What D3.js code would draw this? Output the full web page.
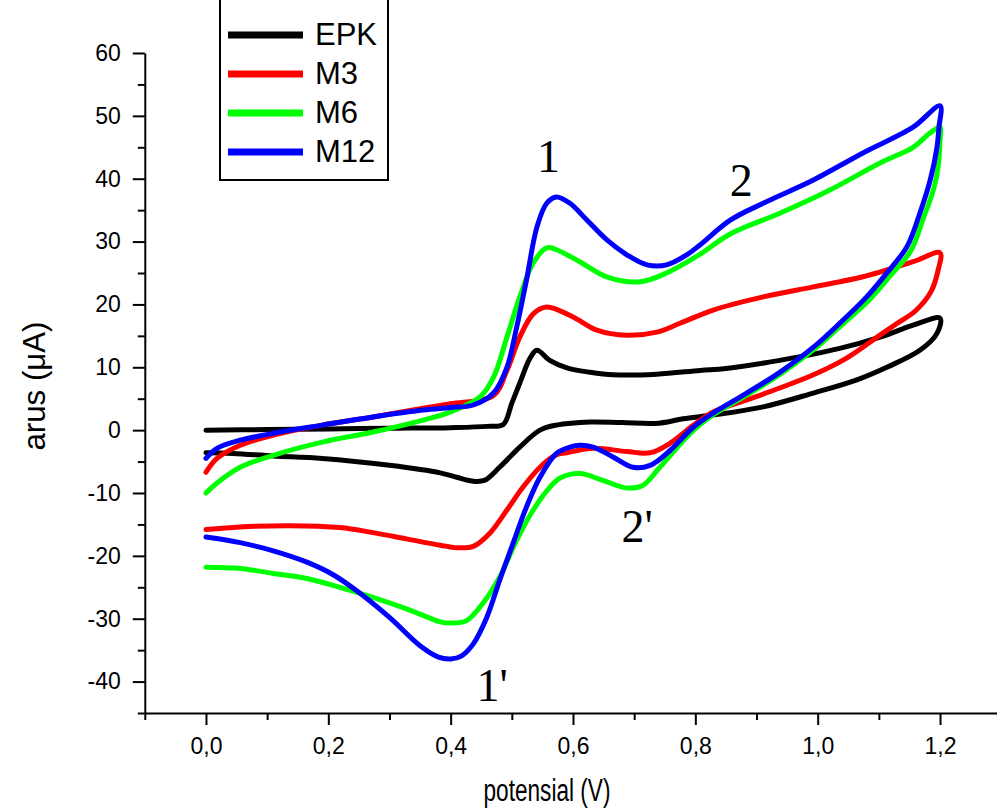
<!DOCTYPE html>
<html>
<head>
<meta charset="utf-8">
<style>
body { margin: 0; background: #fff; }
svg { display: block; }
.axis path, .axis line { stroke: #000; stroke-width: 2px; fill: none; }
.axis text { font-family: "Liberation Sans", Arial, sans-serif; font-size: 23px; fill: #000; }
.title { font-family: "Liberation Sans", Arial, sans-serif; font-size: 31px; fill: #000; }
.curve { fill: none; stroke-width: 5px; stroke-linejoin: round; stroke-linecap: round; }
.legend text { font-family: "Liberation Sans", Arial, sans-serif; font-size: 31px; fill: #000; }
.peak { font-family: "Liberation Serif", "Times New Roman", serif; font-size: 46px; fill: #000; }
</style>
</head>
<body>
<svg id="chart" width="997" height="809"></svg>
<script src="https://cdn.jsdelivr.net/npm/d3@7"></script>
<script>

// values: [potensial (V), arus (uA)], forward scan then return
var epk = [
  [0, 0.0], [0.1, 0.1], [0.2, 0.2], [0.3, 0.3], [0.4, 0.4], [0.46, 0.6], [0.486, 0.9],
  [0.50, 4.3], [0.513, 7.5], [0.53, 11.5], [0.541, 12.7], [0.562, 11.1], [0.59, 9.9],
  [0.628, 9.2], [0.666, 8.8], [0.737, 8.9], [0.808, 9.5], [0.85, 9.8], [0.938, 11.1],
  [1.036, 13.0], [1.102, 14.8], [1.156, 16.7], [1.2, 17.8],
  [1.195, 15.4], [1.167, 12.7], [1.113, 10.0], [1.064, 8.0], [0.993, 5.9], [0.911, 3.7],
  [0.829, 2.4], [0.78, 1.8], [0.74, 1.1], [0.68, 1.2], [0.628, 1.3], [0.573, 0.8],
  [0.546, 0.0], [0.513, -2.7], [0.48, -5.9], [0.455, -8.0], [0.435, -8.1], [0.41, -7.5],
  [0.383, -6.8], [0.3, -5.6], [0.19, -4.5], [0.11, -4.1], [0.044, -3.7], [0, -3.6]
];

var m3 = [
  [0, -6.7], [0.018, -4.5], [0.056, -2.4], [0.11, -0.8], [0.19, 0.8], [0.273, 2.1],
  [0.355, 3.5], [0.4, 4.2], [0.47, 5.5], [0.492, 9.5], [0.513, 14.8], [0.535, 18.5],
  [0.557, 19.6], [0.60, 18.0], [0.639, 15.9], [0.688, 15.1], [0.737, 15.6], [0.775, 17.0],
  [0.829, 19.1], [0.911, 21.2], [0.993, 22.8], [1.074, 24.4], [1.156, 26.8], [1.2, 28.2],
  [1.197, 25.5], [1.185, 22.0], [1.16, 19.0], [1.13, 17.0], [1.10, 15.0], [1.048, 11.5],
  [0.993, 8.8], [0.938, 6.7], [0.884, 4.8], [0.829, 2.9], [0.797, 0.8], [0.76, -2.0],
  [0.726, -3.6], [0.688, -3.4], [0.633, -2.9], [0.59, -3.6], [0.573, -3.9], [0.546, -5.9],
  [0.518, -9.1], [0.492, -12.7], [0.464, -16.4], [0.437, -18.5], [0.41, -18.7],
  [0.383, -18.3], [0.328, -17.3], [0.273, -16.3], [0.219, -15.5], [0.137, -15.2],
  [0.056, -15.4], [0, -15.8]
];

var m6 = [
  [0, -10.0], [0.018, -8.4], [0.056, -5.9], [0.11, -4.0], [0.19, -1.9], [0.273, -0.3],
  [0.355, 1.6], [0.4, 2.9], [0.448, 5.3], [0.47, 8.4], [0.492, 14.8], [0.513, 21.2],
  [0.535, 26.6], [0.557, 29.0], [0.573, 28.7], [0.611, 26.8], [0.655, 24.4], [0.71, 23.6],
  [0.753, 25.0], [0.808, 28.0], [0.857, 31.2], [0.938, 34.5], [1.02, 38.2], [1.102, 42.5],
  [1.156, 45.0], [1.184, 47.3], [1.2, 48.2],
  [1.2, 46.2], [1.197, 42.0], [1.19, 38.5], [1.172, 33.5], [1.152, 28.5], [1.118, 24.5],
  [1.085, 20.8], [1.04, 16.8], [0.996, 13.0], [0.94, 9.0], [0.886, 5.7], [0.83, 2.5],
  [0.797, 0.0], [0.742, -5.9], [0.714, -8.8], [0.688, -9.2], [0.649, -8.0], [0.611, -6.9],
  [0.579, -7.6], [0.562, -9.1], [0.535, -12.7], [0.508, -17.5], [0.48, -23.4],
  [0.453, -27.5], [0.426, -30.3], [0.4, -30.7], [0.383, -30.5], [0.33, -28.5],
  [0.273, -26.6], [0.219, -25.0], [0.165, -23.6], [0.11, -22.8], [0.056, -22.0], [0, -21.8]
];

var m12 = [
  [0, -4.5], [0.018, -2.9], [0.056, -1.6], [0.11, -0.5], [0.19, 0.8], [0.273, 2.1],
  [0.355, 3.2], [0.4, 3.6], [0.437, 4.0], [0.47, 5.9], [0.492, 10.0], [0.508, 16.4],
  [0.524, 23.9], [0.541, 32.3], [0.557, 36.1], [0.573, 37.1], [0.595, 36.1], [0.623, 33.4],
  [0.655, 30.3], [0.688, 27.9], [0.721, 26.3], [0.753, 26.3], [0.786, 27.9], [0.808, 29.5],
  [0.857, 33.4], [0.911, 36.1], [0.993, 39.8], [1.074, 44.1], [1.156, 48.2], [1.2, 51.6],
  [1.198, 48.0], [1.195, 45.0], [1.184, 39.8], [1.167, 34.5], [1.146, 29.2], [1.113, 25.0],
  [1.08, 21.2], [1.036, 17.0], [0.993, 13.2], [0.938, 9.2], [0.884, 5.9], [0.829, 2.7],
  [0.797, 0.5], [0.759, -3.2], [0.726, -5.6], [0.698, -5.9], [0.666, -4.3], [0.633, -2.7],
  [0.611, -2.4], [0.595, -2.7], [0.573, -3.7], [0.546, -7.5], [0.524, -12.2], [0.502, -18.0],
  [0.48, -23.9], [0.459, -29.8], [0.437, -34.0], [0.418, -35.9], [0.4, -36.4], [0.38, -36.1],
  [0.35, -34.3], [0.3, -29.8], [0.247, -25.6], [0.208, -23.0], [0.165, -21.0], [0.11, -19.2],
  [0.056, -17.9], [0, -17.0]
];

var seriesNames = ["EPK", "M3", "M6", "M12"];
var seriesData = [epk, m3, m6, m12];
var seriesColors = ["#000000", "#ff0000", "#00ff00", "#0000ff"];

var xMajor = [0, 0.2, 0.4, 0.6, 0.8, 1.0, 1.2];
var xMinor = [-0.1, 0.1, 0.3, 0.5, 0.7, 0.9, 1.1, 1.3];
var yMajor = [-40, -30, -20, -10, 0, 10, 20, 30, 40, 50, 60];
var yMinor = [-45, -35, -25, -15, -5, 5, 15, 25, 35, 45, 55];

var peakLabels = ["1", "2", "2'", "1'"];
var peakPos = [[0.56, 41.0], [0.875, 37.2], [0.705, -17.8], [0.468, -43.1]];

var svg = d3.select("#chart");

var x = d3.scaleLinear().domain([-0.1, 1.3]).range([144.8, 1001.2]);
var y = d3.scaleLinear().domain([-45, 60]).range([713, 53]);

var fmtX = function(d) { return d3.format(".1f")(d).replace(".", ","); };

// x axis
var gx = svg.append("g").attr("class", "axis")
  .attr("transform", "translate(0," + y(-45) + ")");
gx.call(d3.axisBottom(x).tickValues(xMajor).tickSize(12).tickSizeOuter(0).tickPadding(13).tickFormat(fmtX));
svg.append("g").attr("class", "axis")
  .attr("transform", "translate(0," + y(-45) + ")")
  .call(d3.axisBottom(x).tickValues(xMinor).tickSize(7).tickSizeOuter(0).tickFormat(""))
  .select(".domain").remove();

// y axis
var gy = svg.append("g").attr("class", "axis")
  .attr("transform", "translate(" + x(-0.1) + ",0)");
gy.call(d3.axisLeft(y).tickValues(yMajor).tickSize(12).tickSizeOuter(0).tickPadding(12)
  .tickFormat(function(d) { return String(d); }));
svg.append("g").attr("class", "axis")
  .attr("transform", "translate(" + x(-0.1) + ",0)")
  .call(d3.axisLeft(y).tickValues(yMinor).tickSize(7).tickSizeOuter(0).tickFormat(""))
  .select(".domain").remove();

// axis titles
svg.append("text").attr("class", "title")
  .attr("text-anchor", "middle")
  .attr("transform", "translate(45,386) rotate(-90)")
  .attr("textLength", 129).attr("lengthAdjust", "spacingAndGlyphs")
  .text("arus (\u03bcA)");

svg.append("text").attr("class", "title")
  .attr("text-anchor", "middle")
  .attr("x", 547).attr("y", 801)
  .attr("textLength", 127).attr("lengthAdjust", "spacingAndGlyphs")
  .text("potensial (V)");

// curves
var line = d3.line()
  .x(function(d) { return x(d[0]); })
  .y(function(d) { return y(d[1]); })
  .curve(d3.curveCatmullRom.alpha(0.5));

svg.append("g").selectAll("path")
  .data(seriesData)
  .join("path")
  .attr("class", "curve")
  .attr("stroke", function(d, i) { return seriesColors[i]; })
  .attr("d", line);

// peak labels
svg.append("g").selectAll("text")
  .data(peakLabels)
  .join("text")
  .attr("class", "peak")
  .attr("text-anchor", "middle")
  .attr("x", function(d, i) { return x(peakPos[i][0]); })
  .attr("y", function(d, i) { return y(peakPos[i][1]); })
  .text(function(d) { return d; });

// legend
var legend = svg.append("g").attr("class", "legend");
legend.append("rect")
  .attr("x", 220).attr("y", -4).attr("width", 168).attr("height", 184)
  .attr("fill", "#fff").attr("stroke", "#000").attr("stroke-width", 2);

var item = legend.selectAll("g.item")
  .data(seriesNames)
  .join("g").attr("class", "item")
  .attr("transform", function(d, i) { return "translate(0," + (35 + i * 39) + ")"; });
item.append("line")
  .attr("x1", 228).attr("x2", 303)
  .attr("stroke", function(d, i) { return seriesColors[i]; })
  .attr("stroke-width", 7);
item.append("text")
  .attr("x", 315).attr("y", 10)
  .text(function(d) { return d; });

</script>
</body>
</html>
